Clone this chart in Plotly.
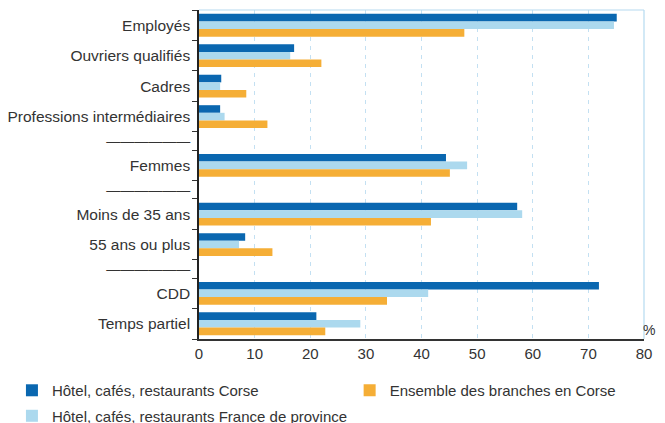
import plotly.graph_objects as go

SEP = "<span style='font-size:14px'>——————</span>"
categories = ["Employés", "Ouvriers qualifiés", "Cadres", "Professions intermédiaires", SEP,
              "Femmes", SEP, "Moins de 35 ans", "55 ans ou plus", SEP, "CDD", "Temps partiel"]
hcr_corse = [75.1, 17.1, 4.0, 3.8, None, 44.4, None, 57.2, 8.3, None, 71.9, 21.1]
hcr_province = [74.6, 16.4, 3.8, 4.6, None, 48.2, None, 58.1, 7.2, None, 41.2, 29.0]
ensemble_corse = [47.7, 22.0, 8.5, 12.3, None, 45.1, None, 41.7, 13.2, None, 33.8, 22.7]
x_ticks = [0, 10, 20, 30, 40, 50, 60, 70, 80]

FONT = "Liberation Sans, Arial, Helvetica, sans-serif"
TXT = "#333333"

series = [
    ("Hôtel, cafés, restaurants Corse", hcr_corse, "#0a67b0", "legend", "g1"),
    ("Hôtel, cafés, restaurants France de province", hcr_province, "#acd9ee", "legend", "g2"),
    ("Ensemble des branches en Corse", ensemble_corse, "#f5ae36", "legend2", "g3"),
]

# row layout: separator rows are thinner
pos, bounds = [], [0.0]
cur = 0.0
for c in categories:
    h = 0.6 if c == SEP else 1.0
    pos.append(cur + h / 2)
    cur += h
    bounds.append(cur)
total = cur

fig = go.Figure()
for name, vals, col, leg, grp in series:
    ys = [p for p, v in zip(pos, vals) if v is not None]
    xs = [v for v in vals if v is not None]
    fig.add_trace(go.Bar(x=xs, y=ys, orientation="h", name=name, legendgroup=grp,
                         marker=dict(color=col, line=dict(width=0)), legend=leg))

legend_common = dict(orientation="v", xref="container", yref="container", xanchor="left", yanchor="top",
                     font=dict(family=FONT, size=15, color=TXT), itemclick=False,
                     tracegroupgap=3, bgcolor="rgba(0,0,0,0)")
# note: the page body adds an 8px offset, so the figure is 657x415
fig.update_layout(
    width=657, height=415,
    margin=dict(l=191, r=21, t=2, b=84, autoexpand=False),
    plot_bgcolor="white", paper_bgcolor="white",
    barmode="group", bargap=0.25, bargroupgap=0,
    font=dict(family=FONT, size=15, color=TXT),
    showlegend=True,
    legend=dict(x=0.006, y=0.118, **legend_common),
    legend2=dict(x=0.52, y=0.118, **legend_common),
    xaxis=dict(range=[0, 80], tickvals=x_ticks, showgrid=True, gridcolor="#c3e0f2", griddash="4px,5px",
               gridwidth=1, showline=True, linecolor="#333333", linewidth=1.5, ticks="", zeroline=False,
               automargin=False, tickfont=dict(family=FONT, size=15, color=TXT), fixedrange=True),
    yaxis=dict(range=[total, 0], tickvals=pos, ticktext=categories, ticks="", showgrid=False,
               showline=True, linecolor="#222222", linewidth=1.5, zeroline=False, automargin=False,
               tickfont=dict(family=FONT, size=15.5, color=TXT), ticklabelstandoff=4,
               minor=dict(tickmode="array", tickvals=bounds, ticks="outside", ticklen=5,
                          tickwidth=1.2, tickcolor="#333333", showgrid=False)),
)

# plot frame (top and right light blue)
fig.add_shape(type="line", xref="paper", yref="paper", x0=0, x1=1, y0=1, y1=1,
              line=dict(color="#b5daf0", width=1.2))
fig.add_shape(type="line", xref="paper", yref="paper", x0=1, x1=1, y0=0, y1=1,
              line=dict(color="#b5daf0", width=1.2))
fig.add_annotation(text="%", xref="paper", yref="paper", x=1.0297, y=0, xanchor="right", yanchor="bottom",
                   yshift=-1, showarrow=False, font=dict(family=FONT, size=14, color=TXT))

fig.write_html("out.html")
